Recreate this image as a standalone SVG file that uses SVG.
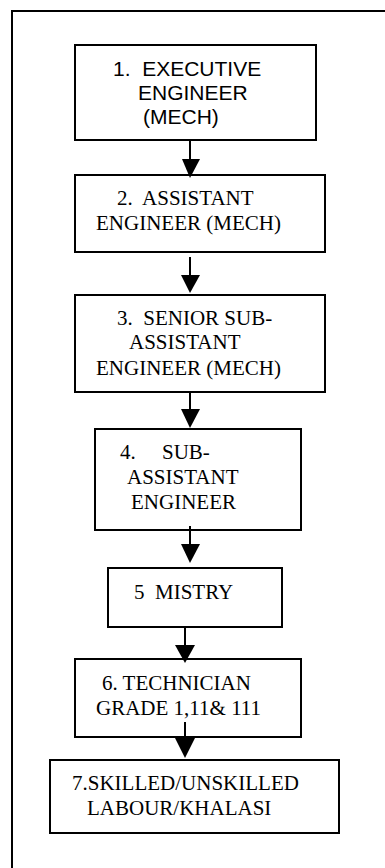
<svg xmlns="http://www.w3.org/2000/svg" width="385" height="868" viewBox="0 0 385 868">
<style>
.box{fill:#fff;stroke:#000;stroke-width:2}
.frame{fill:none;stroke:#000;stroke-width:2}
.serif{font-family:"Liberation Serif","Times New Roman",serif;font-size:21px;fill:#000;white-space:pre}
.sans{font-family:"Liberation Sans",Arial,sans-serif;font-size:21px;fill:#000;white-space:pre}
.line{stroke:#000;stroke-width:2;fill:none}
.head{fill:#000}
</style>
<rect width="385" height="868" fill="#fff"/>
<rect class="frame" x="12" y="11" width="420" height="900"/>
<g id="node1">
<rect class="box" x="75" y="45" width="241" height="95"/>
<text class="sans" x="113" y="76">1.  EXECUTIVE</text>
<text class="sans" x="138" y="100">ENGINEER</text>
<text class="sans" x="143" y="124">(MECH)</text>
</g>
<g id="node2">
<rect class="box" x="75" y="175" width="250" height="77"/>
<text class="serif" x="117" y="205">2.  ASSISTANT</text>
<text class="serif" x="96" y="230">ENGINEER (MECH)</text>
</g>
<g id="node3">
<rect class="box" x="75" y="295" width="250" height="97"/>
<text class="serif" x="117" y="325">3.  SENIOR SUB-</text>
<text class="serif" x="129" y="349">ASSISTANT</text>
<text class="serif" x="96" y="375">ENGINEER (MECH)</text>
</g>
<g id="node4">
<rect class="box" x="95" y="429" width="206" height="101"/>
<text class="serif" x="120" y="459">4.     SUB-</text>
<text class="serif" x="127" y="484">ASSISTANT</text>
<text class="serif" x="131" y="509">ENGINEER</text>
</g>
<g id="node5">
<rect class="box" x="108" y="568" width="174" height="59"/>
<text class="serif" x="134" y="599">5  MISTRY</text>
</g>
<g id="node6">
<rect class="box" x="75" y="659" width="226" height="78"/>
<text class="serif" x="102" y="690">6. TECHNICIAN</text>
<text class="serif" x="96" y="715">GRADE 1,11&amp; 111</text>
</g>
<g id="node7">
<rect class="box" x="50" y="760" width="289" height="73"/>
<text class="serif" x="72" y="790">7.SKILLED/UNSKILLED</text>
<text class="serif" x="87" y="815">LABOUR/KHALASI</text>
</g>
<g id="connectors">
<line class="line" x1="190" y1="141" x2="190" y2="162"/>
<polygon class="head" points="182,159 200,159 190,178"/>
<line class="line" x1="190" y1="257" x2="190" y2="277"/>
<polygon class="head" points="181,275 200,275 190,293"/>
<line class="line" x1="190" y1="393" x2="190" y2="411"/>
<polygon class="head" points="181,409 200,409 190,428"/>
<line class="line" x1="190" y1="526" x2="190" y2="546"/>
<polygon class="head" points="181,544 200,544 190,563"/>
<line class="line" x1="185" y1="628" x2="185" y2="647"/>
<polygon class="head" points="175,645 195,645 185,663"/>
<line class="line" x1="185" y1="722" x2="185" y2="740"/>
<polygon class="head" points="175,738 195,738 185,758"/>
</g>
</svg>
